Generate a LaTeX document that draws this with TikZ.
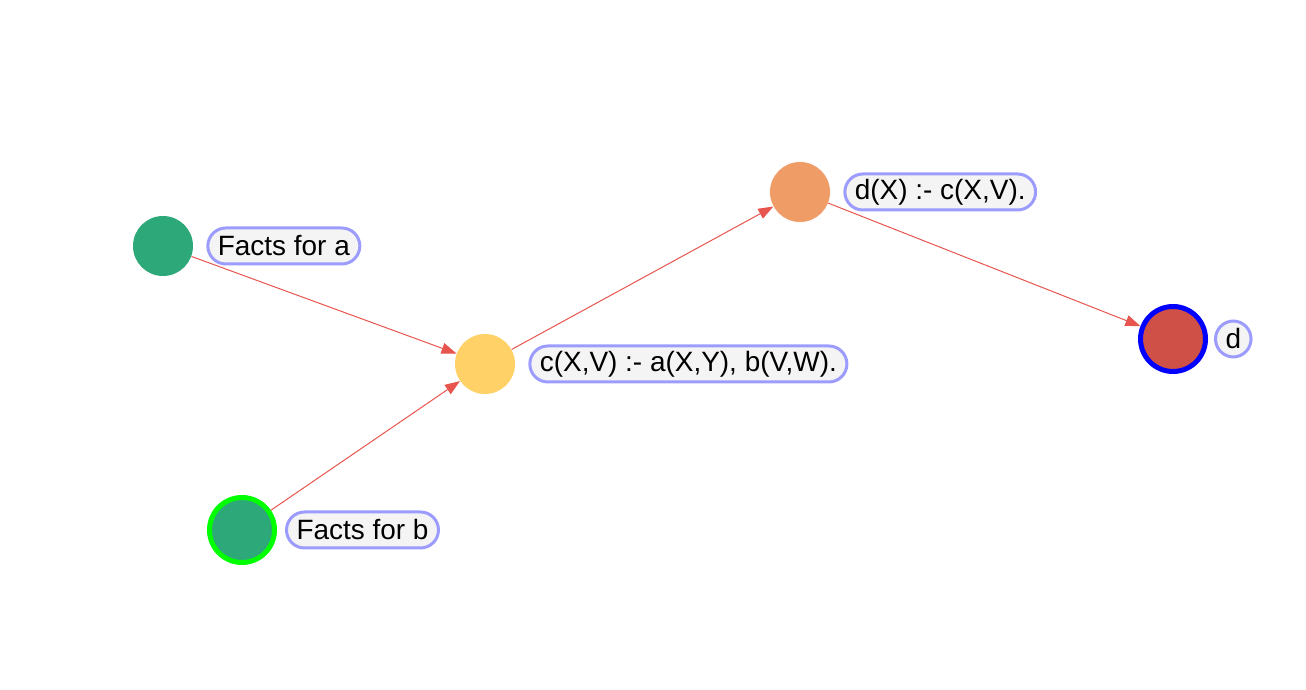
\documentclass[tikz,border=0pt]{standalone}
\usepackage{fontspec}
\setmainfont{Liberation Sans}
\usepackage{tikz}
\usetikzlibrary{arrows.meta,positioning}
\definecolor{factgreen}{HTML}{2DA878}
\definecolor{ruleyellow}{HTML}{FFD166}
\definecolor{ruleorange}{HTML}{F09C66}
\definecolor{goalred}{HTML}{CF5046}
\definecolor{edgered}{HTML}{E8554E}
\definecolor{lblborder}{HTML}{9C9CFF}
\definecolor{lblfill}{HTML}{F4F4F4}
\tikzset{
  pred/.style      = {circle,minimum size=1.2cm,inner sep=0pt},
  markedpred/.style= {circle,minimum size=1.3cm,inner sep=0pt,line width=0.1cm},
  lbl/.style       = {draw=lblborder,fill=lblfill,line width=0.06cm,rounded corners=0.36cm,
                      minimum height=0.72cm,inner xsep=0.2cm,inner ysep=0pt,
                      font=\fontsize{15.9}{18}\selectfont},
  edge/.style      = {-{Triangle[length=3mm,width=2.2mm]},edgered,line width=0.02cm}
}

\begin{document}
\begin{tikzpicture}
  \useasboundingbox (0,0) rectangle (26.12,13.8);
  % predicates, left to right
  \node[pred,fill=factgreen]                        (a)     at (3.26,8.88) {};
  \node[markedpred,fill=factgreen,draw=green]       (b)     at (4.84,3.20) {};
  \node[pred,fill=ruleyellow]                       (c)     at (9.70,6.52) {};
  \node[pred,fill=ruleorange]                       (drule) at (16.00,9.96) {};
  \node[markedpred,fill=goalred,draw=blue]          (d)     at (23.46,7.02) {};
  % their labels sit just right of each circle
  \node[lbl,right=0.26cm of a]     (alabel) {Facts for a};
  \node[lbl,right=0.16cm of b]     (blabel) {Facts for b};
  \node[lbl,right=0.26cm of c]     (clabel) {c(X,V) :- a(X,Y), b(V,W).};
  \node[lbl,right=0.26cm of drule] (drulelabel) {d(X) :- c(X,V).};
  \node[lbl,right=0.12cm of d]     (dlabel) {d};
  \draw[edge] (a) -- (c);
  \draw[edge] (b) -- (c);
  \draw[edge] (c) -- (drule);
  \draw[edge] (drule) -- (d);
\end{tikzpicture}
\end{document}
